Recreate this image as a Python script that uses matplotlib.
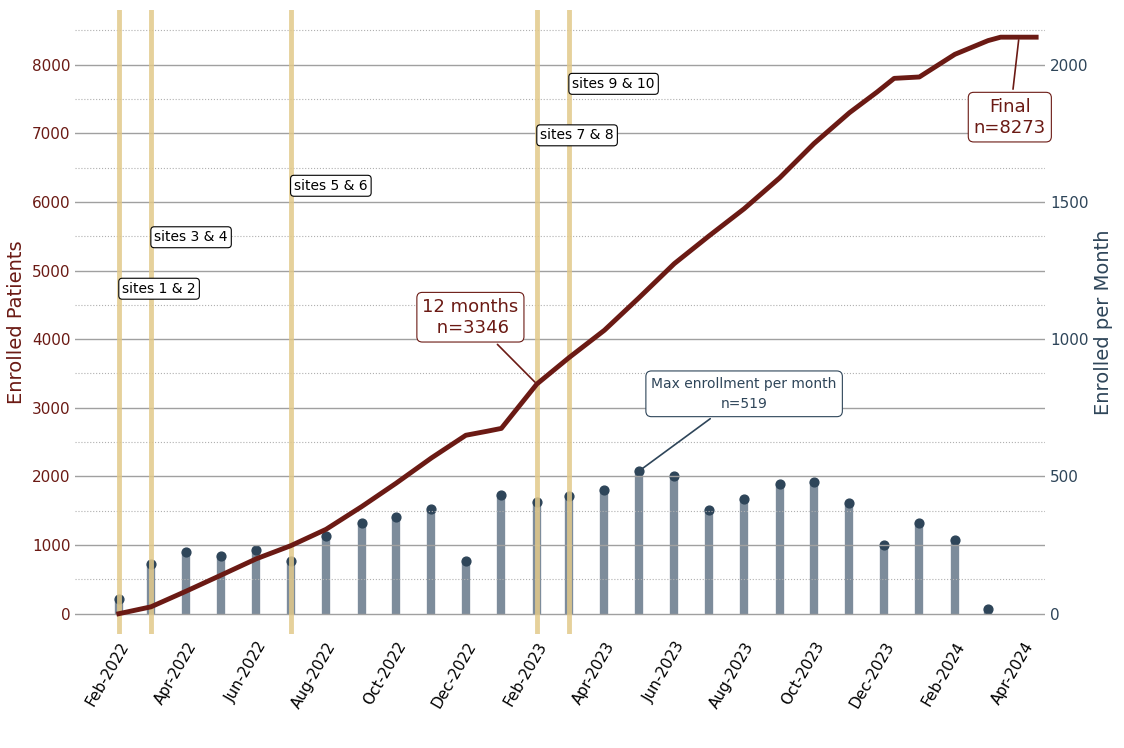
import matplotlib
matplotlib.use("Agg")
import matplotlib.pyplot as plt
import matplotlib.dates as mdates
import pandas as pd
import numpy as np

months = pd.date_range("2022-02-01", "2024-03-01", freq="MS")
monthly = [55,180,224,210,232,191,283,331,353,382,191,434,408,430,452,519,500,379,419,471,478,404,250,331,268,18]

cum_dates = pd.to_datetime(["2022-02-01","2022-03-01","2022-04-01","2022-05-01","2022-06-01","2022-07-01",
    "2022-08-01","2022-09-01","2022-10-01","2022-11-01","2022-12-01","2022-12-20","2023-01-01","2023-02-01",
    "2023-03-01","2023-04-01","2023-05-01","2023-06-01","2023-07-01","2023-08-01","2023-09-01","2023-10-01",
    "2023-11-01","2023-11-25","2023-12-10","2024-01-01","2024-02-01","2024-03-01","2024-03-12","2024-04-12"])
cum_vals = [0,100,330,560,800,990,1230,1560,1900,2270,2600,2660,2700,3346,3730,4130,4600,5100,5500,5900,
    6350,6850,7300,7600,7800,7820,8150,8350,8400,8400]

site_dates = pd.to_datetime(["2022-02-01","2022-03-01","2022-07-01","2023-02-01","2023-03-01"])
site_labels = ["sites 1 & 2","sites 3 & 4","sites 5 & 6","sites 7 & 8","sites 9 & 10"]
site_label_y = [4735,5485,6235,6970,7720]

RED = "#6b1a14"; SLATE = "#2e4559"; BAR = "#7d8c9b"; TAN = "#e2c98a"
dn = mdates.date2num

fig = plt.figure(figsize=(11.24,7.48), dpi=100)
ax = fig.add_axes([0.067,0.152,0.863,0.835])
ax2 = ax.twinx()
ax.set_zorder(ax2.get_zorder()+1); ax.patch.set_visible(False)

ax.set_ylim(-300, 8800); ax2.set_ylim(-75, 2200)
ax.set_xlim(pd.Timestamp("2021-12-25"), pd.Timestamp("2024-04-20"))

ax2.vlines(months, 0, monthly, color=BAR, lw=6, zorder=1)
ax2.scatter(months, monthly, s=40, color=SLATE, zorder=2)

for d in site_dates:
    ax.axvline(d, color=TAN, lw=3.5, alpha=0.85, zorder=1)
ax.plot(cum_dates, cum_vals, color=RED, lw=3.5, zorder=3)

for d, lab, y in zip(site_dates, site_labels, site_label_y):
    ax.text(d + pd.Timedelta(days=3), y, lab, fontsize=10, ha="left", va="center", zorder=5,
            bbox=dict(boxstyle="round,pad=0.25", fc="white", ec="black", lw=0.8))

ax.annotate("12 months\n n=3346", xy=(dn(pd.Timestamp("2023-02-01")), 3346),
            xytext=(dn(pd.Timestamp("2022-12-05")), 4320), ha="center", va="center", fontsize=13, color=RED, zorder=6,
            bbox=dict(boxstyle="round,pad=0.3", fc="white", ec=RED, lw=0.8),
            arrowprops=dict(arrowstyle="-", color=RED, lw=1.2))
ax.annotate("Final\nn=8273", xy=(dn(pd.Timestamp("2024-03-28")), 8400),
            xytext=(dn(pd.Timestamp("2024-03-20")), 7235), ha="center", va="center", fontsize=13, color=RED, zorder=6,
            bbox=dict(boxstyle="round,pad=0.3", fc="white", ec=RED, lw=0.8),
            arrowprops=dict(arrowstyle="-", color=RED, lw=1.2))
ax.annotate("Max enrollment per month\nn=519", xy=(dn(pd.Timestamp("2023-05-01")), 519), xycoords=ax2.transData,
            xytext=(dn(pd.Timestamp("2023-08-01")), 801), textcoords=ax2.transData,
            ha="center", va="center", fontsize=10, color=SLATE, zorder=6, linespacing=1.6,
            bbox=dict(boxstyle="round,pad=0.4", fc="white", ec=SLATE, lw=0.8),
            arrowprops=dict(arrowstyle="-", color=SLATE, lw=1.2))

ax.set_yticks(range(0, 8001, 1000))
ax.set_yticks(range(500, 8600, 1000), minor=True)
ax.grid(axis="y", which="major", color="#a0a0a0", lw=1)
ax.grid(axis="y", which="minor", color="#b0b0b0", lw=0.8, ls=":")
ax.set_axisbelow(True)
ax2.set_yticks([0,500,1000,1500,2000])
ax.tick_params(axis="y", which="both", colors=RED, length=0, labelsize=11)
ax2.tick_params(axis="y", colors=SLATE, length=0, labelsize=11)
ax.tick_params(axis="x", length=0, labelsize=11)
ax.xaxis.set_major_locator(mdates.MonthLocator(bymonth=[2,4,6,8,10,12]))
ax.xaxis.set_major_formatter(mdates.DateFormatter("%b-%Y"))
plt.setp(ax.get_xticklabels(), rotation=60, ha="right", rotation_mode="anchor")
for a in (ax, ax2):
    for s in a.spines.values(): s.set_visible(False)
ax.set_ylabel("Enrolled Patients", color=RED, fontsize=14)
ax2.set_ylabel("Enrolled per Month", color=SLATE, fontsize=14)
fig.savefig("out.png", dpi=100)
